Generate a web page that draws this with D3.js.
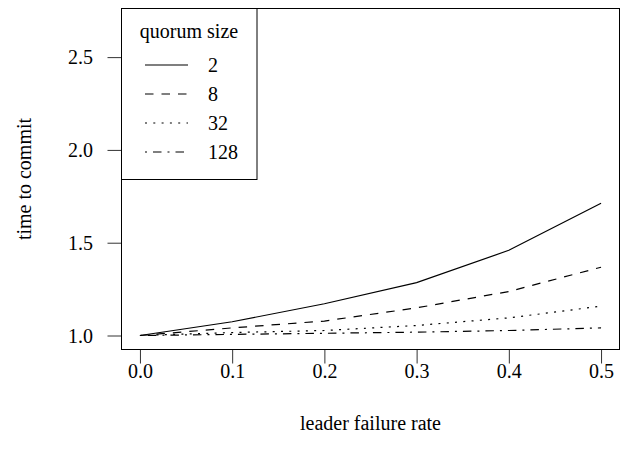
<!DOCTYPE html>
<html>
<head>
<meta charset="utf-8">
<script src="https://cdn.jsdelivr.net/npm/d3@7"></script>
<style>
  body { margin: 0; background: #fff; }
  text { font-family: "Liberation Serif", "DejaVu Serif", serif; fill: #000; }
</style>
</head>
<body>
<div id="chart"></div>
<script>
// Data
const failureRates = [0.0, 0.1, 0.2, 0.3, 0.4, 0.5];
const quorumSizes = ["2", "8", "32", "128"];
const q2 = [1.0, 1.074, 1.171, 1.285, 1.459, 1.713];
const q8 = [1.0, 1.041, 1.078, 1.149, 1.237, 1.368];
const q32 = [1.0, 1.016, 1.027, 1.054, 1.095, 1.158];
const q128 = [1.0, 1.006, 1.012, 1.018, 1.027, 1.041];
const series = [q2, q8, q32, q128];
const xTicks = [0.0, 0.1, 0.2, 0.3, 0.4, 0.5];
const yTicks = [1.0, 1.5, 2.0, 2.5];
const dashes = [null, "8.5,8", "2,6.3", "2,6,8.5,6"];

// Dimensions
const dimensions = { width: 626, height: 462, left: 121.5, right: 619.5, top: 8.5, bottom: 349.5 };
const fontSize = "20px";

const svg = d3.select("#chart")
  .append("svg")
  .attr("width", dimensions.width)
  .attr("height", dimensions.height);

// Scales (R style 4% padding)
const xScale = d3.scaleLinear()
  .domain([-0.02, 0.52])
  .range([dimensions.left, dimensions.right]);

const yScale = d3.scaleLinear()
  .domain([0.9246, 2.762])
  .range([dimensions.bottom, dimensions.top]);

// Axes
const xAxis = d3.axisBottom(xScale)
  .tickValues(xTicks)
  .tickFormat(d3.format(".1f"))
  .tickSize(14)
  .tickSizeOuter(0);

const yAxis = d3.axisLeft(yScale)
  .tickValues(yTicks)
  .tickFormat(d3.format(".1f"))
  .tickSize(14)
  .tickSizeOuter(0);

const xAxisGroup = svg.append("g")
  .attr("transform", `translate(0, ${dimensions.bottom})`)
  .call(xAxis);
xAxisGroup.select(".domain").remove();
xAxisGroup.selectAll("text")
  .style("font-size", fontSize)
  .attr("y", 28.5)
  .attr("dy", 0);

const yAxisGroup = svg.append("g")
  .attr("transform", `translate(${dimensions.left}, 0)`)
  .call(yAxis);
yAxisGroup.select(".domain").remove();
yAxisGroup.selectAll("text")
  .style("font-size", fontSize)
  .attr("x", -28.5)
  .attr("dy", "0.33em");

svg.selectAll(".tick line").attr("stroke", "#333").attr("stroke-width", 1);

// Box
svg.append("rect")
  .attr("x", dimensions.left)
  .attr("y", dimensions.top)
  .attr("width", dimensions.right - dimensions.left)
  .attr("height", dimensions.bottom - dimensions.top)
  .attr("fill", "none")
  .attr("stroke", "#000")
  .attr("stroke-width", 1);

// Lines
const lineGenerator = d3.line()
  .x((d, i) => xScale(failureRates[i]))
  .y(d => yScale(d));

series.forEach((s, i) => {
  svg.append("path")
    .datum(s)
    .attr("d", lineGenerator)
    .attr("fill", "none")
    .attr("stroke", "#000")
    .attr("stroke-width", 1.2)
    .attr("stroke-dasharray", dashes[i]);
});

// Axis titles
svg.append("text")
  .attr("x", (dimensions.left + dimensions.right) / 2)
  .attr("y", 430)
  .attr("text-anchor", "middle")
  .style("font-size", fontSize)
  .text("leader failure rate");

svg.append("text")
  .attr("transform", `translate(31, ${(dimensions.top + dimensions.bottom) / 2}) rotate(-90)`)
  .attr("text-anchor", "middle")
  .style("font-size", fontSize)
  .text("time to commit");

// Legend
const legend = svg.append("g");
legend.append("rect")
  .attr("x", dimensions.left)
  .attr("y", dimensions.top)
  .attr("width", 257 - dimensions.left)
  .attr("height", 179.5 - dimensions.top)
  .attr("fill", "#fff")
  .attr("stroke", "#000")
  .attr("stroke-width", 1);

legend.append("text")
  .attr("x", 189)
  .attr("y", 38)
  .attr("text-anchor", "middle")
  .style("font-size", fontSize)
  .text("quorum size");

quorumSizes.forEach((q, i) => {
  const y = 65 + i * 29;
  legend.append("line")
    .attr("x1", 145).attr("x2", 188)
    .attr("y1", y).attr("y2", y)
    .attr("stroke", "#000")
    .attr("stroke-width", 1.2)
    .attr("stroke-dasharray", dashes[i]);
  legend.append("text")
    .attr("x", 208)
    .attr("y", y)
    .attr("dy", "0.33em")
    .style("font-size", fontSize)
    .text(q);
});
</script>
</body>
</html>
